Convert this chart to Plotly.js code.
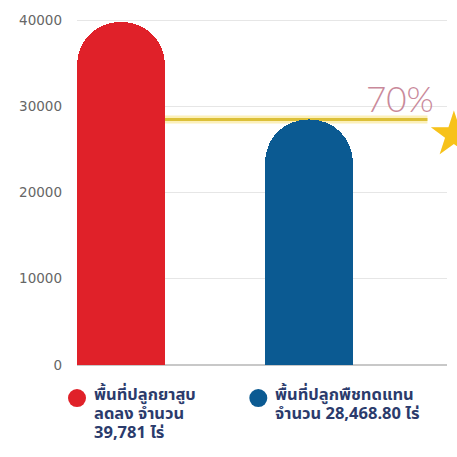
<!DOCTYPE html>
<html>
<head>
<meta charset="utf-8">
<script src="https://cdn.plot.ly/plotly-3.0.1.min.js"></script>
<style>html,body{margin:0;padding:0;background:#fff;}#chart{width:457px;height:457px;}</style>
</head>
<body>
<div id="chart"></div>
<script>
// Data
const categories = ["พื้นที่ปลูกยาสูบลดลง", "พื้นที่ปลูกพืชทดแทน"];
const values = [39781, 28468.80];
const barColors = ["#e02129", "#0b5a92"];
const legendLines = [
  ["พื้นที่ปลูกยาสูบ", "ลดลง จำนวน", "{v} ไร่"],
  ["พื้นที่ปลูกพืชทดแทน", "จำนวน {v} ไร่"]
];
const ratioLabel = "70%";
const yTicks = [0, 10000, 20000, 30000, 40000];

const fmt = (v) => v.toLocaleString("en-US", {minimumFractionDigits: Number.isInteger(v) ? 0 : 2, maximumFractionDigits: 2});

const barWidth = 0.468;

const trace = {
  type: "bar",
  x: [0, 1],
  y: values,
  width: barWidth,
  marker: {color: barColors, cornerradius: "50%", line: {width: 0}},
  hoverinfo: "skip"
};

const legendX = [0.0, 0.49];
const annotations = [];
const shapes = [];
values.forEach((v, i) => {
  legendLines[i].forEach((ln, j) => {
    annotations.push({
      xref: "paper", yref: "paper",
      x: legendX[i] + 0.04, y: -0.084,
      xanchor: "left", yanchor: "middle", align: "left",
      yshift: -19 * j,
      showarrow: false,
      text: "<b>" + ln.replace("{v}", fmt(v)) + "</b>",
      font: {family: "Noto Sans Thai, Noto Sans, sans-serif", size: 16.5, color: "#2b3b6c"}
    });
  });
  shapes.push({
    type: "circle", xref: "paper", yref: "paper",
    xsizemode: "pixel", ysizemode: "pixel",
    xanchor: legendX[i], yanchor: -0.093,
    x0: -9, x1: 9, y0: -9, y1: 9,
    fillcolor: barColors[i], line: {width: 0}
  });
});

// golden line at the level of the second bar
shapes.push({
  type: "line", xref: "x", yref: "y",
  x0: barWidth / 2, x1: 1.63, y0: values[1], y1: values[1],
  line: {color: "rgba(250,230,140,0.6)", width: 8}, layer: "below"
});
shapes.push({
  type: "line", xref: "x", yref: "y",
  x0: barWidth / 2, x1: 1.63, y0: values[1], y1: values[1],
  line: {color: "#dcc038", width: 3}, layer: "below"
});

annotations.push({
  xref: "paper", yref: "y",
  x: 0.97, y: values[1],
  xanchor: "right", yanchor: "bottom", yshift: -2,
  showarrow: false, text: ratioLabel,
  font: {family: "Lato, Noto Sans, sans-serif", size: 35, color: "#c9899a", weight: 300}
});
annotations.push({
  xref: "paper", yref: "y",
  x: 1.02, y: values[1],
  xanchor: "center", yanchor: "middle", yshift: -14,
  showarrow: false, text: "★",
  font: {family: "DejaVu Sans", size: 60, color: "#f7c21a"}
});

const layout = {
  width: 457, height: 457,
  margin: {l: 77, r: 10, t: 10, b: 92},
  paper_bgcolor: "#ffffff",
  plot_bgcolor: "#ffffff",
  showlegend: false,
  bargap: 0,
  xaxis: {
    range: [-0.234, 1.734],
    showticklabels: false, showgrid: false, zeroline: false,
    showline: false, ticks: "", fixedrange: true
  },
  yaxis: {
    range: [0, 41160],
    tickvals: yTicks,
    ticktext: yTicks.map(String),
    tickfont: {family: "DejaVu Sans", size: 13.5, color: "#666"},
    showgrid: true, gridcolor: "#e6e6e6", gridwidth: 1,
    zeroline: true, zerolinecolor: "#c8c8c8", zerolinewidth: 2,
    ticks: "", ticklabelstandoff: 14, showline: false
  },
  shapes: shapes,
  annotations: annotations
};

Plotly.newPlot("chart", [trace], layout, {displayModeBar: false, staticPlot: true});
</script>
</body>
</html>
